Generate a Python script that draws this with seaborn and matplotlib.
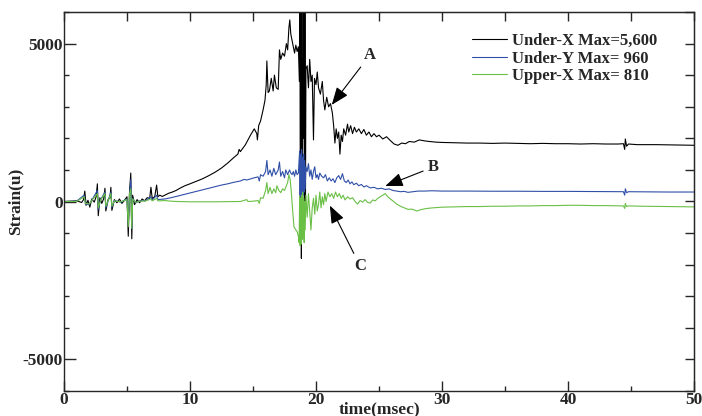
import numpy as np
import matplotlib
matplotlib.use("Agg")
import matplotlib.pyplot as plt
from matplotlib.ticker import MultipleLocator
import seaborn as sns

# Under-X (black)
ux_t = [0, 1.0, 1.4, 1.55, 1.65, 1.75, 1.9, 2.05, 2.2, 2.4, 2.55, 2.65, 2.72, 2.85, 3.0, 3.15, 3.25, 3.32, 3.5,
        3.65, 3.72, 3.8, 4.0, 4.2, 4.4, 4.6, 4.8, 5.0, 5.1, 5.2, 5.3, 5.38, 5.45, 5.6, 5.8, 6.0, 6.2, 6.4, 6.6,
        6.8, 6.9, 7.0, 7.2, 7.35, 7.45, 7.6, 7.8, 8.0, 8.3, 8.6, 8.9, 9.2, 9.6, 10.0, 10.5, 11.0, 11.5, 12.0,
        12.5, 13.0, 13.5, 13.8, 13.9, 14.0, 14.4, 14.8, 15.1, 15.3, 15.35, 15.45, 15.6, 15.8, 15.95, 16.05,
        16.1, 16.2, 16.3, 16.45, 16.6, 16.7, 16.85, 17.0, 17.1, 17.2, 17.35, 17.5, 17.65, 17.75, 17.85, 17.92,
        18.0, 18.1, 18.2, 18.3, 18.4, 18.5, 18.6, 18.68, 18.72, 18.76, 18.8, 18.84, 18.88, 18.92, 18.96, 19.0,
        19.04, 19.08, 19.12, 19.16, 19.2, 19.3, 19.4, 19.5, 19.6, 19.7, 19.8, 19.88, 20.0, 20.1, 20.2, 20.35,
        20.5, 20.6, 20.7, 20.85, 21.0, 21.15, 21.3, 21.4, 21.5, 21.6, 21.7, 21.8, 21.9, 22.0, 22.1, 22.2,
        22.35, 22.5, 22.6, 22.75, 22.9, 23.05, 23.2, 23.4, 23.6, 23.8, 24.0, 24.2, 24.4, 24.6, 24.8, 25.0,
        25.3, 25.6, 25.9, 26.2, 26.5, 26.8, 27.1, 27.4, 27.8, 28.2, 28.6, 29.0, 29.5, 30.0, 31, 32, 33, 34,
        35, 36, 37, 38, 39, 40, 41, 42, 43, 44, 44.4, 44.5, 44.55, 44.65, 44.8, 45.5, 47, 48.5, 50]
ux_v = [0, 20, -30, 60, 330, -120, 40, -180, 80, -20, 150, 560, -450, 120, -60, 90, 420, -300, 60,
        120, 450, -280, 60, -40, 80, -60, 40, 150, -1100, 300, 900, -1180, 200, -100, 60, -40, 80, 20, 120,
        100, 450, 100, 150, 520, 150, 200, 160, 200, 260, 300, 350, 420, 500, 560, 640, 720, 820, 930,
        1060, 1220, 1400, 1500, 1650, 1580, 1800, 2100, 2300, 2150, 1950, 2400, 2550, 2900, 3200, 3700,
        4450, 3450, 3500, 3900, 3500, 4000, 3600, 3550, 4800, 4500, 4700, 4600, 5000, 4800, 5500, 5750,
        5300, 5100, 4900, 4700, 4950, 4750, 4900, 3800, 6500, -1000, 6500, -1800, 6500, 1000, 4500, 2000,
        6500, -1200, 6500, -500, 4200, 4300, 3600, 4500, 3800, 4000, 1950, 3900, 3700, 4100, 3600, 3400,
        3800, 3200, 2900, 3300, 3000, 3100, 2800, 2400, 1850, 2300, 2000, 2200, 1500, 2100, 1900, 2300,
        2100, 2450, 2200, 2400, 2150, 2350, 2200, 2300, 2150, 2280, 2100, 2200, 2050, 2150, 2050, 2100,
        1980, 2050, 1930, 1820, 1780, 1850, 1830, 1900, 1880, 1950, 1920, 1900, 1880, 1870, 1860, 1850, 1850, 1840,
        1850, 1840, 1830, 1840, 1830, 1830, 1820, 1830, 1820, 1820, 1830, 1650, 1980, 1750, 1820, 1800, 1800, 1790, 1780]

# Under-Y (blue)
uy_t = [0, 1.0, 1.6, 1.7, 2.0, 2.2, 2.65, 2.72, 2.9, 3.25, 3.32, 3.5, 3.72, 3.8, 4.0, 4.5, 5.0, 5.1, 5.2, 5.3,
        5.38, 5.45, 5.7, 6.0, 6.5, 6.9, 7.0, 7.35, 7.45, 8.0, 8.5, 9.0, 9.5, 10.0, 10.5, 11.0, 11.5, 12.0, 12.5,
        13.0, 13.5, 14.0, 14.3, 14.5, 15.0, 15.4, 15.5, 15.6, 15.8, 16.0, 16.1, 16.2, 16.35, 16.5, 16.65, 16.8,
        17.0, 17.1, 17.2, 17.35, 17.5, 17.6, 17.75, 17.9, 18.0, 18.1, 18.2, 18.3, 18.4, 18.5, 18.6, 18.7, 18.74,
        18.78, 18.82, 18.86, 18.9, 18.94, 18.98, 19.02, 19.06, 19.1, 19.14, 19.2, 19.3, 19.4, 19.5, 19.6, 19.7,
        19.8, 19.9, 20.0, 20.1, 20.2, 20.3, 20.45, 20.6, 20.75, 20.9, 21.05, 21.2, 21.35, 21.5, 21.65, 21.8,
        21.95, 22.1, 22.25, 22.4, 22.55, 22.7, 22.85, 23.0, 23.2, 23.4, 23.6, 23.8, 24.0, 24.3, 24.6, 24.9,
        25.2, 25.5, 25.8, 26.1, 26.4, 26.7, 27.0, 27.3, 27.7, 28.1, 28.6, 29.2, 30.0, 32, 34, 36, 38, 40, 42,
        44.4, 44.5, 44.55, 44.65, 44.8, 46, 48, 50]
uy_v = [0, 10, 200, -80, -100, 40, 350, -250, 50, 300, -200, 30, 300, -180, 30, -20, 80, -700, 200, 700,
        -850, 100, -40, 20, 30, 150, 40, 200, 60, 80, 120, 170, 220, 270, 320, 370, 420, 470, 520,
        560, 610, 650, 700, 680, 740, 780, 650, 850, 800, 950, 1300, 850, 1000, 800, 1050, 850,
        1000, 1250, 800, 950, 750, 1000, 850, 1000, 900, 850, 950, 800, 1000, 850, 900, 1600, 200,
        1500, 100, 1650, 300, 1400, 200, 1500, 300, 1300, 400, 1100, 950, 1200, 800, 1000, 700,
        950, 1100, 750, 850, 700, 900, 800, 750, 850, 650, 750, 650, 720, 600, 750, 820,
        700, 880, 650, 600, 680, 560, 620, 530, 580, 500, 540, 460, 500, 430, 450, 400,
        420, 380, 400, 350, 330, 310, 320, 290, 310, 330, 330, 340, 330, 330, 325, 325, 320, 320, 315,
        310, 200, 400, 280, 310, 305, 300, 300]

# Upper-X (green)
lx_t = [0, 1.0, 1.6, 1.7, 2.0, 2.2, 2.65, 2.72, 2.9, 3.25, 3.32, 3.5, 3.72, 3.8, 4.0, 4.5, 5.0, 5.1, 5.2, 5.3,
        5.38, 5.45, 5.7, 6.0, 6.5, 6.9, 7.0, 7.35, 7.45, 8.0, 8.5, 9, 10, 11, 12, 13, 14, 14.5, 14.6, 15, 15.4,
        15.5, 15.6, 15.8, 16.0, 16.1, 16.2, 16.35, 16.5, 16.65, 16.8, 16.9, 17.05, 17.2, 17.35, 17.5, 17.6,
        17.75, 17.85, 17.95, 18.05, 18.15, 18.25, 18.4, 18.5, 18.6, 18.66, 18.7, 18.74, 18.78, 18.82, 18.86,
        18.9, 18.94, 18.98, 19.02, 19.06, 19.1, 19.14, 19.2, 19.3, 19.4, 19.5, 19.6, 19.7, 19.8, 19.9, 20.0,
        20.1, 20.2, 20.3, 20.4, 20.5, 20.6, 20.7, 20.8, 20.95, 21.1, 21.25, 21.4, 21.55, 21.7, 21.85, 22.0,
        22.15, 22.3, 22.5, 22.7, 22.9, 23.1, 23.3, 23.5, 23.7, 23.9, 24.1, 24.3, 24.5, 24.7, 24.9, 25.1, 25.3,
        25.5, 25.7, 25.9, 26.1, 26.4, 26.7, 27.0, 27.3, 27.6, 28.0, 28.4, 28.8, 29.3, 30.0, 31, 32, 33, 34,
        35, 36, 37, 38, 39, 40, 41, 42, 43, 44.4, 44.5, 44.55, 44.65, 44.8, 46, 48, 50]
lx_v = [0, 0, 150, -60, -80, 30, 250, -200, 40, 250, -150, 20, 250, -150, 20, -10, 60, -800, 250, 400,
        -850, 80, -30, 10, 20, 80, 20, 100, 20, 30, 10, 0, -10, -10, -10, -5, 0, 60, 0, 10, 30,
        -60, 120, 100, 350, 600, 250, 450, 250, 400, 280, 500, 350, 280, 400, 350, 450,
        600, 850, 700, 250, -300, -800, -900, -950, -1100, -1300, 150, -1400, 100, -1350, 200,
        -1200, 300, -1100, 100, -1300, 0, -900, 200, -500, 250, -300, -900, -200, 100, -400, 200,
        -300, -100, 300, -200, 150, -100, 250, 0, 300, 150, 250, 100, 300, 150, 250, 100,
        200, 50, 150, 80, 120, 0, -80, 30, -20, 60, -30, -50, 50, 20, 100, 150, 200,
        250, 150, 80, 20, -80, -150, -200, -250, -240, -300, -250, -220, -200, -180, -170, -160, -160, -150,
        -150, -140, -140, -130, -130, -120, -120, -130, -130, -140, -220, -60, -160, -140, -150, -160, -170]

labels = ["Under-X Max=5,600", "Under-Y Max= 960", "Upper-X Max= 810"]
colors = ["#000000", "#2f4fa8", "#6abf45"]

sns.set_style("ticks")
plt.rcParams["font.family"] = ["Liberation Serif", "DejaVu Serif"]
plt.rcParams["font.weight"] = "bold"
plt.rcParams["axes.unicode_minus"] = False

fig = plt.figure(figsize=(7.02, 4.16), dpi=100)
ax = fig.add_axes([64 / 702, 25 / 416, 630 / 702, 379 / 416])

for tt, vv, lab, col in zip([ux_t, uy_t, lx_t], [ux_v, uy_v, lx_v], labels, colors):
    sns.lineplot(x=tt, y=vv, ax=ax, color=col, lw=0.8, label=lab, estimator=None, sort=False)

ax.set_xlim(0, 50)
ax.set_ylim(-6000, 6000)
ax.set_xticks([0, 10, 20, 30, 40, 50])
ax.set_yticks([-5000, 0, 5000])
ax.xaxis.set_minor_locator(MultipleLocator(5))
ax.yaxis.set_minor_locator(MultipleLocator(1000))
ax.tick_params(which="both", direction="in", width=1, labelsize=12.5)
ax.tick_params(axis="y", which="major", length=8.5, pad=1)
ax.tick_params(axis="y", which="minor", length=3.6)
ax.tick_params(axis="x", which="major", length=7, pad=1)
ax.tick_params(axis="x", which="minor", length=3.6)
for lbl in ax.get_xticklabels() + ax.get_yticklabels():
    lbl.set_fontweight("bold")
for s in ax.spines.values():
    s.set_linewidth(1.0)

top = ax.secondary_xaxis("top")
top.set_xticks(np.arange(0, 51, 5))
top.tick_params(direction="in", length=6.5, width=1, labeltop=False)
right = ax.secondary_yaxis("right")
right.set_yticks(np.arange(-6000, 6001, 1000))
right.tick_params(direction="in", length=6.5, width=1, labelright=False)

ax.set_xlabel("time(msec)", fontsize=12.5, fontweight="bold", labelpad=-5)
ax.set_ylabel("Strain(u)", fontsize=12.5, fontweight="bold", labelpad=-1)

leg = ax.legend(loc="upper left", bbox_to_anchor=((472 - 64) / 630, (391 - 33) / 379), frameon=False,
                borderpad=0, borderaxespad=0, handlelength=2.1, handletextpad=0.3, labelspacing=0.1,
                prop={"family": ["Liberation Serif"], "weight": "bold", "size": 12})

arrow = dict(arrowstyle="-|>,head_length=0.9,head_width=0.35", color="black", lw=0.8,
             mutation_scale=12, shrinkA=1, shrinkB=0)
ax.annotate("A", xy=(21.25, 3060), xytext=(24.3, 4650), fontsize=12, fontweight="bold",
            ha="center", va="center", arrowprops=arrow)
ax.annotate("B", xy=(25.5, 490), xytext=(29.3, 1090), fontsize=12, fontweight="bold",
            ha="center", va="center", arrowprops=arrow)
ax.annotate("C", xy=(21.1, -130), xytext=(23.5, -2040), fontsize=12, fontweight="bold",
            ha="center", va="center", arrowprops=arrow)

fig.savefig("out.png", dpi=100)
